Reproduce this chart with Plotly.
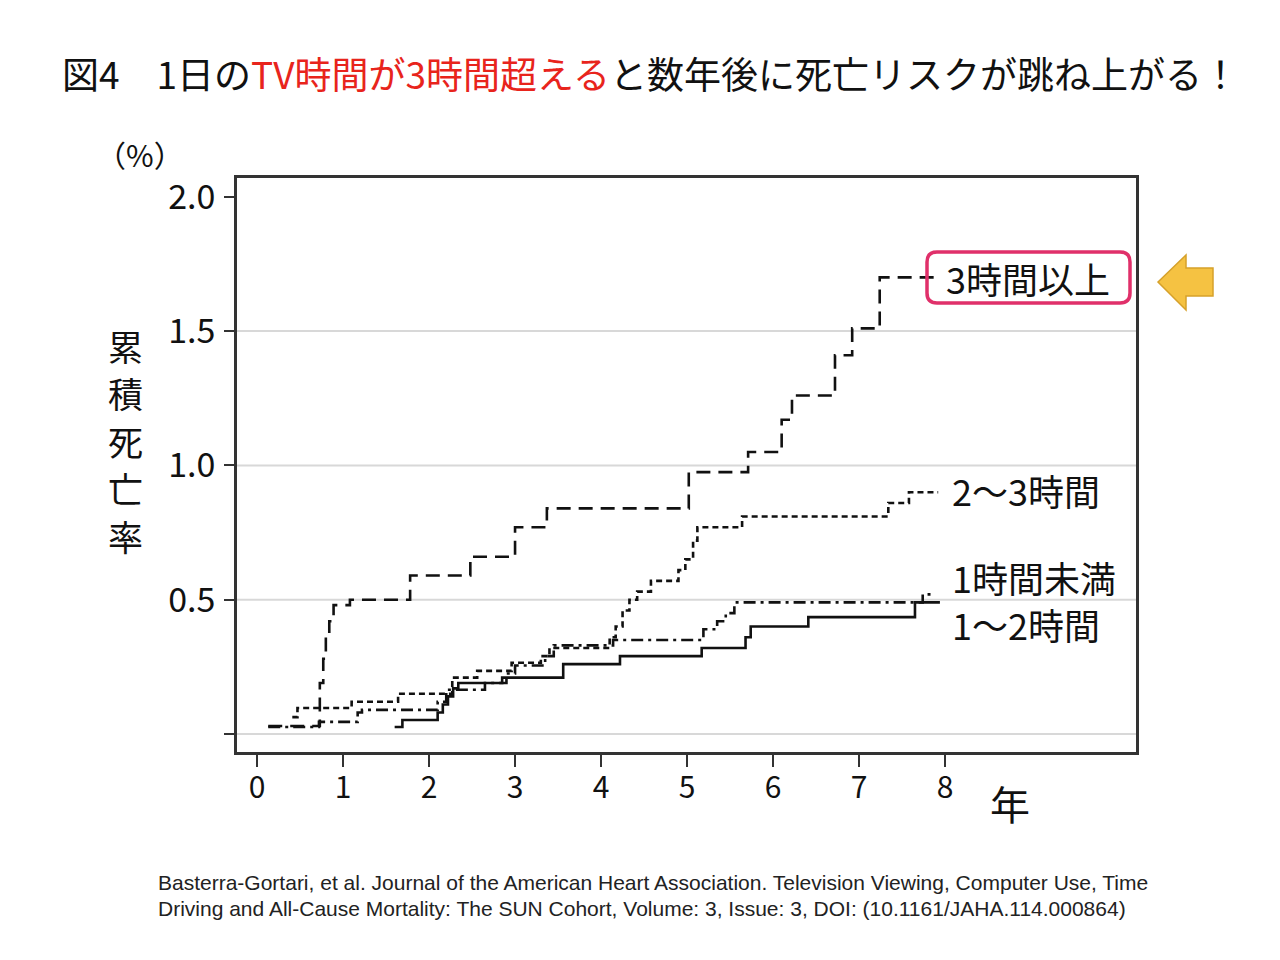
import plotly.graph_objects as go

# ---------------- data ----------------
X_TICKS = [0, 1, 2, 3, 4, 5, 6, 7, 8]
Y_TICKS = [0, 0.5, 1.0, 1.5, 2.0]
Y_TICKTEXT = ["", "0.5", "1.0", "1.5", "2.0"]
GRID_Y = [0, 0.5, 1.0, 1.5]

# 3時間以上 (long dash)
T3_X = [0.13, 0.73, 0.77, 0.80, 0.84, 0.89, 1.08, 1.78, 2.48, 3.00, 3.37, 5.02, 5.71, 6.10, 6.22, 6.72, 6.92, 7.24, 7.92]
T3_Y = [0.03, 0.19, 0.28, 0.36, 0.42, 0.48, 0.50, 0.59, 0.66, 0.77, 0.84, 0.975, 1.05, 1.17, 1.26, 1.41, 1.51, 1.70, 1.70]

# 2～3時間 (short dash)
T23_X = [0.41, 0.47, 1.10, 1.64, 2.27, 2.56, 2.96, 3.30, 3.40, 4.10, 4.17, 4.25, 4.33, 4.42, 4.58, 4.90, 4.98, 5.07, 5.12, 5.64, 7.34, 7.58, 7.92]
T23_Y = [0.063, 0.097, 0.12, 0.15, 0.21, 0.235, 0.265, 0.29, 0.32, 0.36, 0.40, 0.46, 0.50, 0.53, 0.57, 0.61, 0.65, 0.72, 0.77, 0.81, 0.86, 0.90, 0.90]

# 1時間未満 (dash-dot)
T1_X = [0.13, 0.72, 1.17, 1.22, 2.10, 2.20, 2.65, 2.90, 3.00, 3.35, 3.45, 4.14, 5.19, 5.35, 5.45, 5.55, 7.74, 7.88]
T1_Y = [0.026, 0.045, 0.08, 0.09, 0.12, 0.165, 0.19, 0.225, 0.255, 0.29, 0.33, 0.35, 0.39, 0.42, 0.45, 0.49, 0.52, 0.52]

# 1～2時間 (solid)
T12_X = [1.60, 1.69, 2.10, 2.16, 2.22, 2.28, 2.34, 2.85, 3.56, 4.22, 5.17, 5.68, 5.74, 6.41, 7.65, 7.94]
T12_Y = [0.026, 0.052, 0.08, 0.11, 0.14, 0.17, 0.19, 0.21, 0.26, 0.29, 0.32, 0.36, 0.40, 0.435, 0.49, 0.49]

SERIES_NAMES = ["3時間以上", "2～3時間", "1時間未満", "1～2時間"]
Y_TITLE_CHARS = ["累", "積", "死", "亡", "率"]
TITLE_PRE = "図4\u30001日の"
TITLE_RED = "TV時間が3時間超える"
TITLE_POST = "と数年後に死亡リスクが跳ね上がる！"
CAPTION = [
    "Basterra-Gortari, et al. Journal of the American Heart Association. Television Viewing, Computer Use, Time",
    "Driving and All-Cause Mortality: The SUN Cohort, Volume: 3, Issue: 3, DOI: (10.1161/JAHA.114.000864)",
]

# ---------------- layout geometry ----------------
W, H = 1280, 960
L, R, T, B = 237, 1136, 178, 752
PW, PH = R - L, B - T

def px(x):
    return (x - L) / PW

def py(y):
    return (B - y) / PH

JP = "Noto Sans CJK JP"
LW = 2.6

fig = go.Figure()

styles = [
    (T3_X, T3_Y, "14px,8px"),
    (T23_X, T23_Y, "6px,4px"),
    (T1_X, T1_Y, "12px,5px,3px,5px"),
    (T12_X, T12_Y, "solid"),
]
for (xs, ys, dash), name in zip(styles, SERIES_NAMES):
    fig.add_trace(go.Scatter(
        x=xs, y=ys, mode="lines", name=name,
        line=dict(color="#111111", width=LW, dash=dash, shape="hv"),
        showlegend=False, hoverinfo="skip",
    ))

shapes = []
for gy in GRID_Y:
    shapes.append(dict(type="line", xref="paper", yref="y", x0=0, x1=1, y0=gy, y1=gy,
                       line=dict(color="#d8d8d8", width=2), layer="below"))

# rounded pink box around 3時間以上
def rrect(x0, y0, x1, y1, r):
    def P(x, y):
        return f"{px(x):.5f},{py(y):.5f}"
    pts = [
        f"M {P(x0 + r, y0)}", f"L {P(x1 - r, y0)}", f"Q {P(x1, y0)} {P(x1, y0 + r)}",
        f"L {P(x1, y1 - r)}", f"Q {P(x1, y1)} {P(x1 - r, y1)}", f"L {P(x0 + r, y1)}",
        f"Q {P(x0, y1)} {P(x0, y1 - r)}", f"L {P(x0, y0 + r)}", f"Q {P(x0, y0)} {P(x0 + r, y0)} Z",
    ]
    return " ".join(pts)

shapes.append(dict(type="path", xref="paper", yref="paper",
                   path=rrect(927, 252, 1130, 303, 10),
                   line=dict(color="#e0306a", width=3.5)))

# yellow arrow
arrow_pts = [(1158, 282), (1186, 255), (1186, 268), (1213, 268), (1213, 296), (1186, 296), (1186, 310)]
apath = "M " + " L ".join(f"{px(a):.5f},{py(b):.5f}" for a, b in arrow_pts) + " Z"
shapes.append(dict(type="path", xref="paper", yref="paper", path=apath,
                   fillcolor="#f5c242", line=dict(color="#d6a12a", width=1.5)))

ann = []
# series labels
label_pos = [(944, 278), (950, 490), (950, 577), (950, 624)]
for name, (lx, ly) in zip(SERIES_NAMES, label_pos):
    ann.append(dict(xref="paper", yref="paper", x=px(lx), y=py(ly), text=name,
                    showarrow=False, xanchor="left", yanchor="middle",
                    font=dict(family=JP, size=36, color="#111111")))

# y title stacked characters
for i, ch in enumerate(Y_TITLE_CHARS):
    ann.append(dict(xref="paper", yref="paper", x=px(125), y=py(345 + i * 47.5), text=ch,
                    showarrow=False, xanchor="center", yanchor="middle",
                    font=dict(family=JP, size=35, color="#111111")))

ann.append(dict(xref="paper", yref="paper", x=px(140), y=py(154), text="（%）",
                showarrow=False, xanchor="center", yanchor="middle",
                font=dict(family=JP, size=30, color="#111111")))

ann.append(dict(xref="paper", yref="paper", x=px(1010), y=py(803), text="年",
                showarrow=False, xanchor="center", yanchor="middle",
                font=dict(family=JP, size=40, color="#111111")))

# title
ann.append(dict(xref="paper", yref="paper", x=px(60), y=py(73),
                text=f"{TITLE_PRE}<span style='color:#e8241c'>{TITLE_RED}</span>{TITLE_POST}",
                showarrow=False, xanchor="left", yanchor="middle",
                font=dict(family=JP, size=37, color="#111111")))

# caption
for i, line in enumerate(CAPTION):
    ann.append(dict(xref="paper", yref="paper", x=px(156), y=py(882 + i * 27), text=line,
                    showarrow=False, xanchor="left", yanchor="middle",
                    font=dict(family="Liberation Sans", size=21, color="#222222")))

fig.update_layout(
    width=W, height=H,
    margin=dict(l=L, r=W - R, t=T, b=H - B, pad=0),
    paper_bgcolor="white", plot_bgcolor="white",
    shapes=shapes, annotations=ann,
    xaxis=dict(range=[-0.233, 10.22], tickvals=X_TICKS, ticks="outside", ticklen=12,
               tickwidth=2, tickcolor="#333", showgrid=False, zeroline=False,
               showline=True, linecolor="#333", linewidth=2.5, mirror=True,
               tickfont=dict(family=JP, size=30, color="#111"), ticklabelstandoff=-5),
    yaxis=dict(range=[-0.067, 2.07], tickvals=Y_TICKS, ticktext=Y_TICKTEXT, ticks="outside",
               ticklen=10, tickwidth=2, tickcolor="#333", showgrid=False, zeroline=False,
               showline=True, linecolor="#333", linewidth=2.5, mirror=True,
               tickfont=dict(family=JP, size=34, color="#111"), ticklabelstandoff=2),
)

fig.write_html("out.html")
